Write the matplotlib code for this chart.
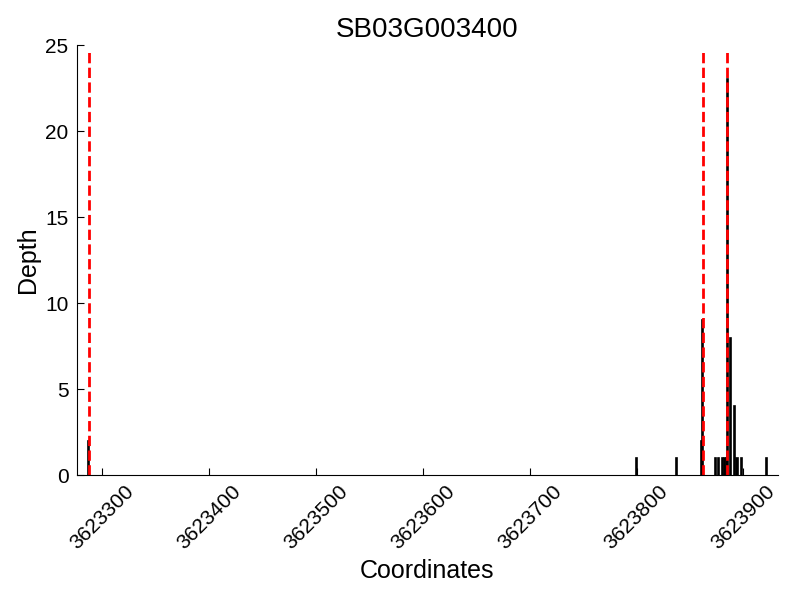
import matplotlib

matplotlib.use("Agg")
import matplotlib.pyplot as plt

plt.rcParams["font.family"] = ["Liberation Sans", "DejaVu Sans"]

# read coverage (position, depth) and exon boundaries
positions = [3623287, 3623800, 3623837, 3623861, 3623862, 3623874, 3623877,
             3623880, 3623882, 3623884, 3623885, 3623888, 3623892, 3623894,
             3623898, 3623922]
depths = [2, 1, 1, 2, 9, 1, 1, 1, 1, 1, 23, 8, 4, 1, 1, 1]
boundaries = [3623287, 3623862, 3623885]
gene = "SB03G003400"

fig = plt.figure(figsize=(8, 6), dpi=100)
ax = fig.add_axes([0.096, 0.208, 0.876, 0.717])

ax.bar(positions, depths, width=1.0, color="black", edgecolor="black",
       linewidth=1.2)
ax.vlines(boundaries, 0, 24.6, colors="red", linestyles="--", linewidth=2)

ax.set_xlim(3623276, 3623932)
ax.set_ylim(0, 25)
ax.set_xticks(range(3623300, 3624000, 100))
ax.ticklabel_format(axis="x", useOffset=False, style="plain")
ax.tick_params(axis="x", direction="in", length=5, labelsize=15,
               labelrotation=45, pad=5)
ax.tick_params(axis="y", direction="in", length=5, labelsize=15, pad=6)
ax.spines["top"].set_visible(False)
ax.spines["right"].set_visible(False)

ax.set_title(gene, fontsize=20)
ax.set_xlabel("Coordinates", fontsize=18)
ax.set_ylabel("Depth", fontsize=18)

fig.savefig("out.png")
